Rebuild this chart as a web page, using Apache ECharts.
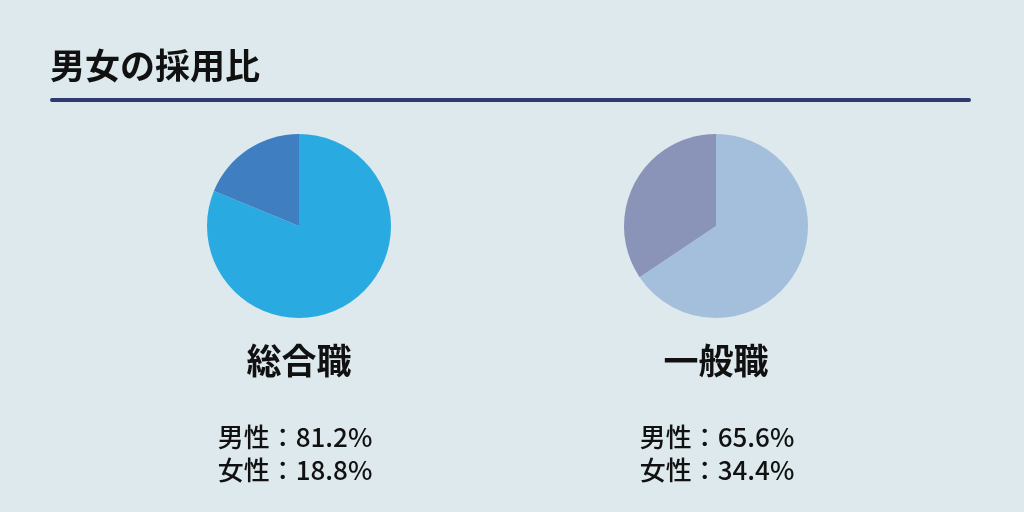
<!DOCTYPE html>
<html><head><meta charset="utf-8">
<script src="https://cdn.jsdelivr.net/npm/echarts@6/dist/echarts.min.js"></script>
<style>html,body{margin:0;padding:0;background:#dde9ed}#c{width:1024px;height:512px}</style>
</head><body><div id="c"></div>
<script>
const categories = ['男性', '女性'];
const sougou = [81.2, 18.8];
const ippan = [65.6, 34.4];
const groupNames = ['総合職', '一般職'];
const font = '"Noto Sans CJK JP", "Noto Sans", sans-serif';
const chart = echarts.init(document.getElementById('c'));
function pie(vals, center, colors) {
  return {type: 'pie', radius: 92, center: center, startAngle: 90, clockwise: true,
    label: {show: false}, labelLine: {show: false}, silent: true,
    data: vals.map((v, i) => ({name: categories[i], value: v, itemStyle: {color: colors[i]}}))};
}
function labels(x, tx, name, vals) {
  return [
    {type: 'text', x: x, y: 361, style: {text: name, font: 'bold 35px ' + font, fill: '#111', align: 'center', verticalAlign: 'middle'}},
    {type: 'text', x: tx, y: 437, style: {text: categories[0] + '：' + vals[0].toFixed(1) + '%', font: '500 26px ' + font, fill: '#111', align: 'center', verticalAlign: 'middle'}},
    {type: 'text', x: tx, y: 470, style: {text: categories[1] + '：' + vals[1].toFixed(1) + '%', font: '500 26px ' + font, fill: '#111', align: 'center', verticalAlign: 'middle'}}
  ];
}
chart.setOption({
  backgroundColor: '#dde9ed',
  animation: false,
  series: [pie(sougou, [299, 226], ['#29abe2', '#3f7fc1']), pie(ippan, [716, 226], ['#a3bfdc', '#8a93b8'])],
  graphic: [
    {type: 'text', x: 50, y: 66, style: {text: '男女の採用比', font: '600 35px ' + font, fill: '#111', verticalAlign: 'middle'}},
    {type: 'line', shape: {x1: 52, y1: 100, x2: 969, y2: 100}, style: {stroke: '#2f3a6e', lineWidth: 4, lineCap: 'round'}},
    ...labels(299, 295, groupNames[0], sougou),
    ...labels(716, 717, groupNames[1], ippan)
  ]
});
</script></body></html>
